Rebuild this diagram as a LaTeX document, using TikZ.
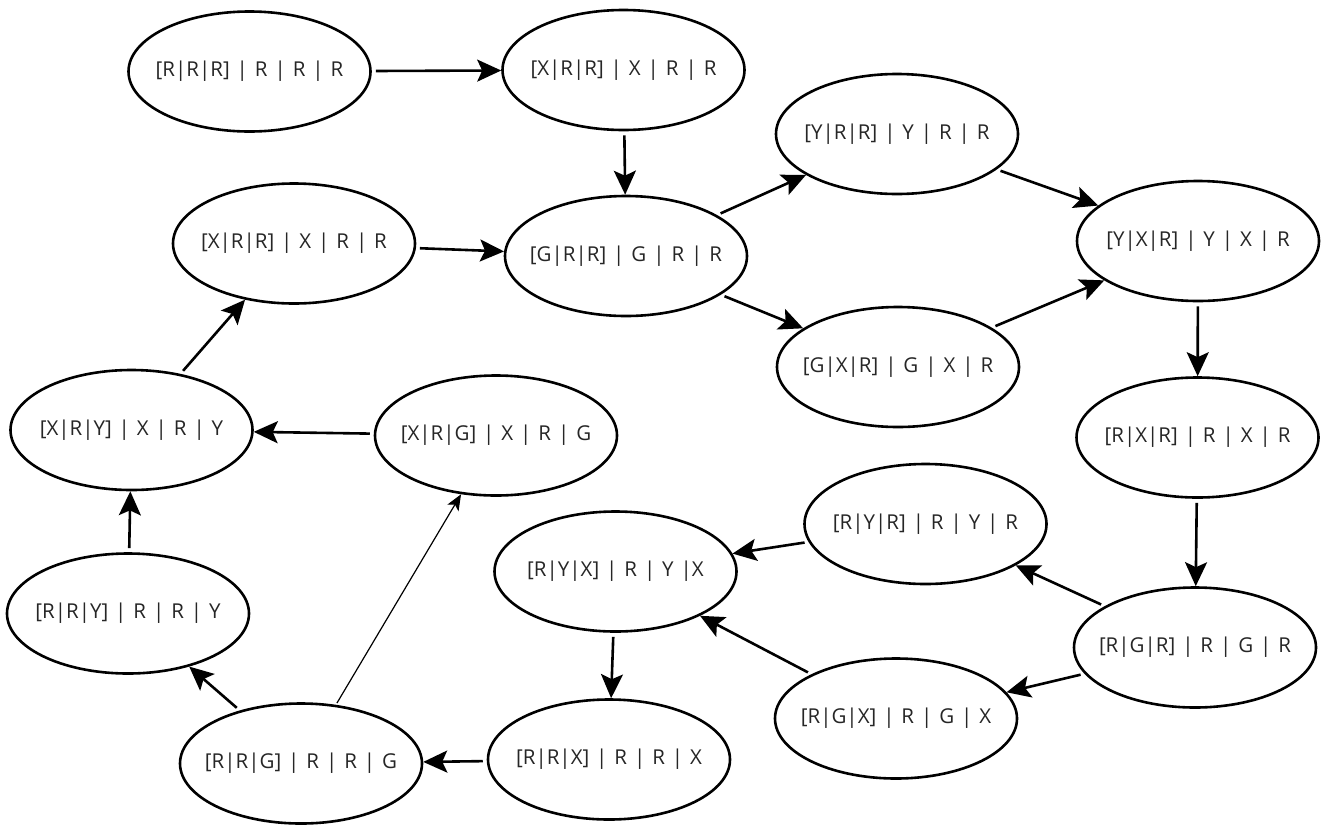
\documentclass[tikz,border=0pt]{standalone}
\usepackage{fontspec}
\setmainfont[WordSpace=1.3]{Open Sans}
\usetikzlibrary{arrows.meta,shapes.geometric}
\newcommand{\stlabel}[1]{\makebox[0pt][c]{#1}}
\begin{document}
\begin{tikzpicture}[x=1pt,y=-1pt,
  state/.style={draw=black, line width=2.6pt, ellipse, minimum width=242pt, minimum height=120pt,
    inner sep=0pt, font=\fontsize{20.5}{24}\selectfont, text=black!85},
  flow/.style={line width=2.6pt, shorten <=4pt, -{Stealth[length=24pt,width=22pt,inset=5pt]}},
  thinflow/.style={line width=1.2pt, shorten <=2pt, -{Stealth[length=16pt,width=13pt,inset=4pt]}}]
\useasboundingbox (0,0) rectangle (1330,828);
\fill[white] (0,0) rectangle (1330,828);

\node[state] (RRR) at (249.5,71.5) {\stlabel{[R|R|R] | R | R | R}};
\node[state] (XRRa) at (623.5,70) {\stlabel{[X|R|R] | X | R | R}};
\node[state] (YRR) at (897,134) {\stlabel{[Y|R|R] | Y | R | R}};
\node[state] (XRRb) at (294,243.5) {\stlabel{[X|R|R] | X | R | R}};
\node[state] (GRR) at (626,256) {\stlabel{[G|R|R] | G | R | R}};
\node[state] (YXR) at (1198,241) {\stlabel{[Y|X|R] | Y | X | R}};
\node[state] (GXR) at (898,367) {\stlabel{[G|X|R] | G | X | R}};
\node[state] (XRY) at (131.5,430) {\stlabel{[X|R|Y] | X | R | Y}};
\node[state] (XRG) at (496,435.5) {\stlabel{[X|R|G] | X | R | G}};
\node[state] (RXR) at (1197.5,437.5) {\stlabel{[R|X|R] | R | X | R}};
\node[state] (RYR) at (925.5,524) {\stlabel{[R|Y|R] | R | Y | R}};
\node[state] (RYX) at (615.5,571.5) {\stlabel{[R|Y|X] | R | Y |X}};
\node[state] (RRY) at (128,613.5) {\stlabel{[R|R|Y] | R | R | Y}};
\node[state] (RGR) at (1195,647.5) {\stlabel{[R|G|R] | R | G | R}};
\node[state] (RGX) at (896,718.5) {\stlabel{[R|G|X] | R | G | X}};
\node[state] (RRX) at (609,759.5) {\stlabel{[R|R|X] | R | R | X}};
\node[state] (RRG) at (301,763.5) {\stlabel{[R|R|G] | R | R | G}};

\draw[flow] (RRR) -- (XRRa);
\draw[flow] (XRRa) -- (GRR);
\draw[flow] (XRRb) -- (GRR);
\draw[flow] (GRR) -- (YRR);
\draw[flow] (GRR) -- (GXR);
\draw[flow] (YRR) -- (YXR);
\draw[flow] (GXR) -- (YXR);
\draw[flow] (YXR) -- (RXR);
\draw[flow] (RXR) -- (RGR);
\draw[flow] (RGR) -- (RYR);
\draw[flow] (RGR) -- (RGX);
\draw[flow] (RYR) -- (RYX);
\draw[flow] (RGX) -- (RYX);
\draw[flow] (RYX) -- (RRX);
\draw[flow] (RRX) -- (RRG);
\draw[flow] (RRG) -- (RRY);
\draw[thinflow] (RRG) -- (XRG);
\draw[flow] (RRY) -- (XRY);
\draw[flow] (XRG) -- (XRY);
\draw[flow] (XRY) -- (XRRb);
\end{tikzpicture}
\end{document}
